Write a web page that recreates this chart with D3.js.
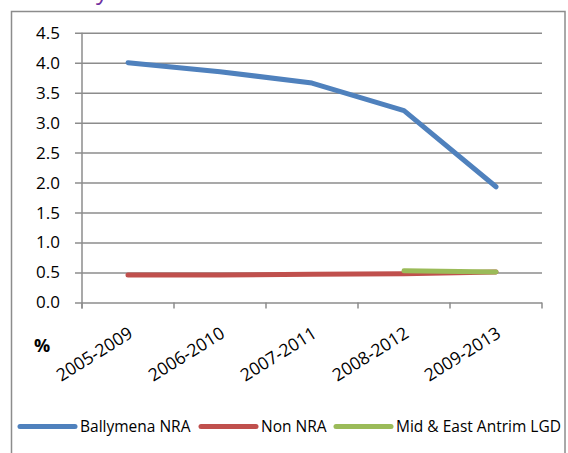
<!DOCTYPE html>
<html>
<head>
<meta charset="utf-8">
<script src="https://cdn.jsdelivr.net/npm/d3@7"></script>
<style>
  body { margin: 0; background: #fff; }
  svg text { font-family: 'Open Sans', sans-serif; fill: #000; }
</style>
</head>
<body>
<svg id="chart" width="568" height="453"></svg>
<script>
const periods = ['2005-2009', '2006-2010', '2007-2011', '2008-2012', '2009-2013'];
const ballymenaNRA = [4.0, 3.85, 3.66, 3.2, 1.93];
const nonNRA = [0.46, 0.46, 0.47, 0.48, 0.51];
const midEastAntrim = [null, null, null, 0.53, 0.51];
const yTicks = [0, 0.5, 1, 1.5, 2, 2.5, 3, 3.5, 4, 4.5];

const seriesList = [
  { name: 'Ballymena NRA', values: ballymenaNRA, color: '#4F81BD' },
  { name: 'Non NRA', values: nonNRA, color: '#C0504D' },
  { name: 'Mid & East Antrim LGD', values: midEastAntrim, color: '#9BBB59' }
];

const svg = d3.select('#chart');
const margin = { top: 32.7, left: 82, right: 26, bottom: 150.5 };
const width = 568 - margin.left - margin.right;
const height = 453 - margin.top - margin.bottom;

// cut-off title fragment above the chart
svg.append('text')
  .attr('x', 96)
  .attr('y', -1)
  .attr('font-size', 24)
  .style('fill', '#7030A0')
  .text('y');

// outer chart border
svg.append('rect')
  .attr('x', 11.5)
  .attr('y', 11.5)
  .attr('width', 553.5)
  .attr('height', 470)
  .attr('fill', 'none')
  .attr('stroke', '#8c8c8c')
  .attr('stroke-width', 1.5);

const g = svg.append('g').attr('transform', `translate(${margin.left},${margin.top})`);

const x = d3.scaleBand().domain(periods).range([0, width]);
const y = d3.scaleLinear().domain([0, 4.5]).range([height, 0]);

// y axis with gridlines
const axisY = d3.axisLeft(y)
  .tickValues(yTicks)
  .tickFormat(d3.format('.1f'))
  .tickSizeInner(-width)
  .tickSizeOuter(0)
  .tickPadding(22);

const gy = g.append('g').attr('class', 'axis-y').call(axisY);
gy.select('.domain').remove();
gy.selectAll('.tick line')
  .attr('x1', -7)
  .attr('stroke', '#8c8c8c')
  .attr('stroke-width', 1.5);
gy.selectAll('.tick text').attr('font-size', 17);

g.append('line')
  .attr('x1', 0).attr('x2', 0)
  .attr('y1', 0).attr('y2', height + 6)
  .attr('stroke', '#8c8c8c')
  .attr('stroke-width', 1.5);

// x axis
const axisX = d3.axisBottom(x).tickSize(0).tickFormat('');
const gx = g.append('g').attr('transform', `translate(0,${height})`).call(axisX);
gx.select('.domain').remove();

const bounds = periods.map(p => x(p)).concat([width]);
g.selectAll('.x-tick')
  .data(bounds)
  .enter()
  .append('line')
  .attr('class', 'x-tick')
  .attr('x1', d => d).attr('x2', d => d)
  .attr('y1', height).attr('y2', height + 6)
  .attr('stroke', '#8c8c8c')
  .attr('stroke-width', 1.5);

g.selectAll('.x-label')
  .data(periods)
  .enter()
  .append('text')
  .attr('class', 'x-label')
  .attr('text-anchor', 'end')
  .attr('font-size', 17.5)
  .attr('transform', d => `translate(${x(d) + x.bandwidth() / 2 + 6},${height + 34}) rotate(-32)`)
  .text(d => d);

svg.append('text')
  .attr('x', 34)
  .attr('y', 352)
  .attr('font-size', 18)
  .attr('font-weight', 'bold')
  .text('%');

// lines
const line = d3.line()
  .defined(d => d.v !== null)
  .x(d => x(d.p) + x.bandwidth() / 2)
  .y(d => y(d.v));

g.selectAll('.series')
  .data(seriesList)
  .enter()
  .append('path')
  .attr('class', 'series')
  .attr('fill', 'none')
  .attr('stroke', d => d.color)
  .attr('stroke-width', 5)
  .attr('stroke-linecap', 'round')
  .attr('stroke-linejoin', 'round')
  .attr('d', d => line(d.values.map((v, i) => ({ p: periods[i], v }))));

// legend
const legendX = [20, 201, 336];
const legend = svg.append('g').attr('transform', 'translate(0,426.5)');
const item = legend.selectAll('.legend-item')
  .data(seriesList)
  .enter()
  .append('g')
  .attr('class', 'legend-item')
  .attr('transform', (d, i) => `translate(${legendX[i]},0)`);

item.append('line')
  .attr('x1', 0).attr('x2', 55)
  .attr('stroke', d => d.color)
  .attr('stroke-width', 5)
  .attr('stroke-linecap', 'round');

item.append('text')
  .attr('x', 60)
  .attr('dy', '0.35em')
  .attr('font-size', 15.5)
  .text(d => d.name);
</script>
</body>
</html>
